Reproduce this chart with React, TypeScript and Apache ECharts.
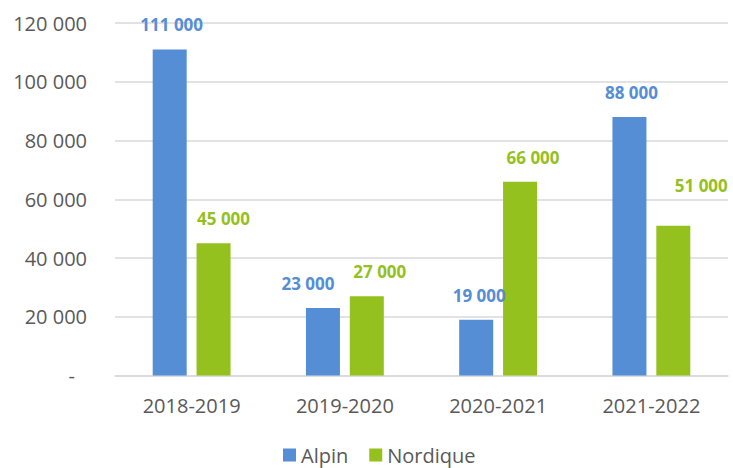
import React, { useEffect, useRef } from "react";
import * as echarts from "echarts";

const categories = ["2018-2019", "2019-2020", "2020-2021", "2021-2022"];
const alpin = [111000, 23000, 19000, 88000];
const nordique = [45000, 27000, 66000, 51000];
const yTicks = { min: 0, max: 120000, interval: 20000 };

// label nudges (styling only)
const alpinLabelOffsets = [[2, 0], [-15, 0], [3, 0], [2, 0]];
const nordiqueLabelOffsets = [[10, 0], [13, 0], [13, 0], [28, -16]];

const BLUE = "#558ED5";
const GREEN = "#95C11F";
const FONT = "'Open Sans', 'Liberation Sans', sans-serif";

const fmt = (v: number) => {
  if (v === 0) return "{z|-}";
  return String(Math.round(v)).replace(/\B(?=(\d{3})+(?!\d))/g, " ");
};

export default function App() {
  const ref = useRef<HTMLDivElement>(null);
  useEffect(() => {
    if (!ref.current) return;
    const chart = echarts.init(ref.current, undefined, { renderer: "svg" });
    const mk = (vals: number[], offs: number[][]) =>
      vals.map((v, i) => ({
        value: v,
        label: { offset: offs[i] },
      }));
    chart.setOption({
      animation: false,
      textStyle: { fontFamily: FONT },
      grid: { left: 115, right: 5, top: 23, bottom: 92.5, containLabel: false },
      legend: {
        left: 278,
        top: 440,
        itemWidth: 13,
        itemHeight: 13,
        itemGap: 21,
        icon: "rect",
        textStyle: { fontSize: 20, lineHeight: 16, color: "#595959", fontFamily: FONT },
        data: ["Alpin", "Nordique"],
      },
      xAxis: {
        type: "category",
        data: categories,
        axisLine: { lineStyle: { color: "#D9D9D9", width: 1.5 } },
        axisTick: { show: false },
        axisLabel: { fontSize: 20, color: "#595959", margin: 20, fontFamily: FONT },
      },
      yAxis: {
        type: "value",
        min: yTicks.min,
        max: yTicks.max,
        interval: yTicks.interval,
        axisLine: { show: false },
        axisTick: { show: false },
        splitLine: { lineStyle: { color: "#D9D9D9", width: 1.5 } },
        axisLabel: {
          fontSize: 20,
          color: "#595959",
          margin: 28,
          fontFamily: FONT,
          formatter: fmt,
          rich: { z: { fontSize: 20, color: "#595959", padding: [0, 12, 0, 0], fontFamily: FONT } },
        },
      },
      series: [
        {
          name: "Alpin",
          type: "bar",
          barWidth: 34,
          barGap: "29%",
          itemStyle: { color: BLUE },
          data: mk(alpin, alpinLabelOffsets),
          label: {
            show: true,
            position: "top",
            distance: 16,
            color: BLUE,
            fontWeight: "bold",
            fontSize: 17,
            fontFamily: FONT,
            formatter: (p: any) => fmt(p.value),
          },
        },
        {
          name: "Nordique",
          type: "bar",
          barWidth: 34,
          itemStyle: { color: GREEN },
          data: mk(nordique, nordiqueLabelOffsets),
          label: {
            show: true,
            position: "top",
            distance: 16,
            color: GREEN,
            fontWeight: "bold",
            fontSize: 17,
            fontFamily: FONT,
            formatter: (p: any) => fmt(p.value),
          },
        },
      ],
    });
    return () => chart.dispose();
  }, []);
  return <div ref={ref} style={{ width: 733, height: 468, position: "absolute", left: 0, top: 0 }} />;
}
